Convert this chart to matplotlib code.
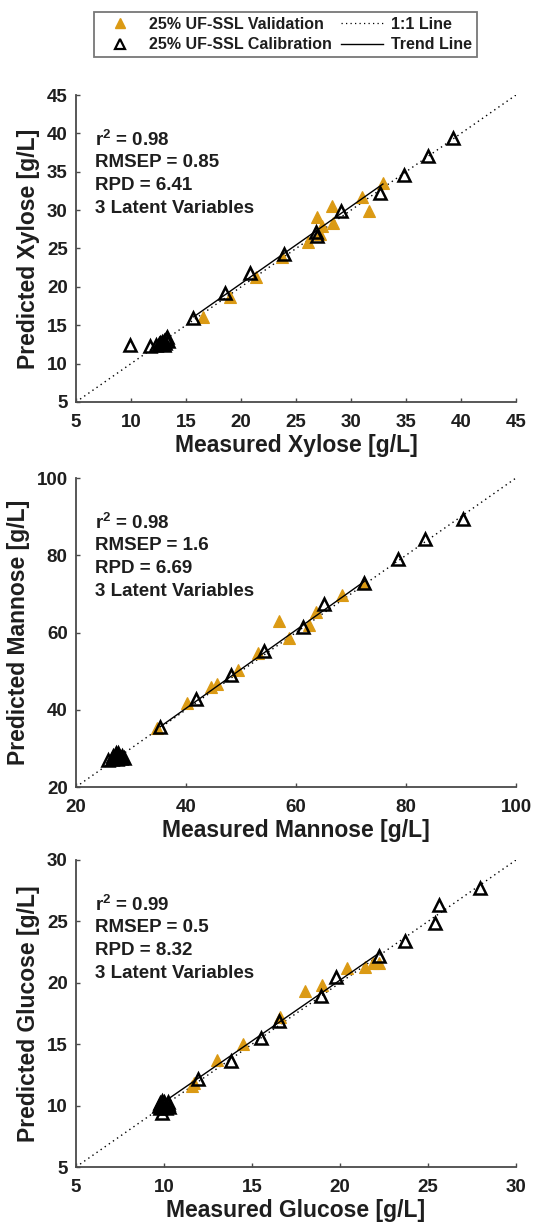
import matplotlib
matplotlib.use("Agg")
import matplotlib.pyplot as plt
from matplotlib.lines import Line2D

plt.rcParams['font.family'] = ['Liberation Sans', 'DejaVu Sans']
plt.rcParams['font.weight'] = 'bold'
plt.rcParams['mathtext.default'] = 'regular'

# ---------------- data ----------------
# Xylose
xyl_val_x = [16.5, 19.0, 21.4, 23.7, 26.1, 27.2, 27.4, 26.9, 28.4, 28.3, 31.0, 31.6, 32.9]
xyl_val_y = [16.1, 18.7, 21.3, 23.9, 25.8, 26.9, 27.9, 29.1, 28.3, 30.5, 31.75, 29.9, 33.5]
xyl_cal_x = [9.9, 11.7, 12.3, 12.5, 12.7, 12.8, 12.9, 13.0, 13.1, 13.2, 13.3, 13.4, 13.0, 12.6,
             15.6, 18.5, 20.8, 23.9, 26.8, 26.9, 29.1, 32.6, 34.8, 37.0, 39.3]
xyl_cal_y = [12.4, 12.3, 12.4, 12.5, 12.5, 12.8, 12.6, 13.0, 12.7, 13.2, 13.5, 13.0, 12.4, 12.7,
             16.0, 19.2, 21.8, 24.3, 27.1, 26.6, 29.9, 32.2, 34.6, 37.05, 39.4]
xyl_trend_x = [15.7, 32.9]
xyl_trend_y = [16.1, 33.4]
xyl_stats = ["r$^2$ = 0.98", "RMSEP = 0.85", "RPD = 6.41", "3 Latent Variables"]

# Mannose
man_val_x = [34.7, 40.1, 44.5, 45.6, 49.5, 53.0, 56.9, 58.8, 62.4, 63.6, 68.4, 72.4]
man_val_y = [35.2, 41.7, 45.8, 46.6, 50.3, 54.6, 63.0, 58.5, 61.9, 65.4, 69.6, 72.9]
man_cal_x = [25.8, 26.5, 27.0, 27.3, 27.6, 27.9, 28.1, 28.4, 27.5, 26.8, 28.7, 27.2,
             35.3, 41.8, 48.2, 54.2, 61.2, 65.0, 72.4, 78.6, 83.5, 90.3]
man_cal_y = [27.0, 27.3, 27.6, 28.2, 28.7, 28.0, 27.5, 27.9, 27.2, 27.9, 27.6, 28.9,
             35.6, 42.7, 49.0, 55.2, 61.5, 67.3, 72.7, 78.9, 84.2, 89.3]
man_trend_x = [35.3, 72.4]
man_trend_y = [35.6, 73.2]
man_stats = ["r$^2$ = 0.98", "RMSEP = 1.6", "RPD = 6.69", "3 Latent Variables"]

# Glucose
glu_val_x = [11.6, 11.7, 13.0, 14.5, 16.6, 18.0, 19.0, 20.4, 21.4, 21.9, 22.2]
glu_val_y = [11.6, 11.8, 13.7, 15.0, 17.2, 19.35, 19.8, 21.2, 21.3, 21.65, 21.6]
glu_cal_x = [9.7, 9.8, 9.9, 10.0, 10.1, 10.2, 10.3, 9.8, 10.0, 10.2, 9.9, 10.1, 9.9,
             11.95, 13.8, 15.5, 16.55, 18.9, 19.8, 22.2, 23.7, 25.4, 25.6, 27.95]
glu_cal_y = [10.0, 10.2, 9.9, 10.3, 10.0, 10.1, 9.9, 9.8, 10.1, 10.3, 10.4, 9.8, 9.4,
             12.15, 13.6, 15.5, 16.85, 18.9, 20.5, 22.2, 23.4, 24.9, 26.3, 27.7]
glu_trend_x = [10.3, 22.2]
glu_trend_y = [10.6, 22.4]
glu_stats = ["r$^2$ = 0.99", "RMSEP = 0.5", "RPD = 8.32", "3 Latent Variables"]

lims = [(5, 45), (20, 100), (5, 30)]
ticks = [list(range(5, 46, 5)), list(range(20, 101, 20)), list(range(5, 31, 5))]
xlabels = ["Measured Xylose [g/L]", "Measured Mannose [g/L]", "Measured Glucose [g/L]"]
ylabels = ["Predicted Xylose [g/L]", "Predicted Mannose [g/L]", "Predicted Glucose [g/L]"]
legend_labels = ["25% UF-SSL Validation", "25% UF-SSL Calibration", "1:1 Line", "Trend Line"]

panels = [
    (xyl_val_x, xyl_val_y, xyl_cal_x, xyl_cal_y, xyl_trend_x, xyl_trend_y, xyl_stats),
    (man_val_x, man_val_y, man_cal_x, man_cal_y, man_trend_x, man_trend_y, man_stats),
    (glu_val_x, glu_val_y, glu_cal_x, glu_cal_y, glu_trend_x, glu_trend_y, glu_stats),
]

# ---------------- style ----------------
ORANGE = '#DB9A14'
SPINE = '#4a4a4a'
TXT = '#1e1e1e'

W, H = 533, 1224
fig = plt.figure(figsize=(W / 100, H / 100), dpi=100)

# axes boxes in pixels: (left, top, right, bottom)
boxes = [(76, 95, 516, 402), (76, 478, 516, 787), (76, 860, 516, 1167)]

for i, (box, pdata) in enumerate(zip(boxes, panels)):
    l, t, r, b = box
    ax = fig.add_axes([l / W, 1 - b / H, (r - l) / W, (b - t) / H])
    vx, vy, cx, cy, tx, ty, stats = pdata
    lo, hi = lims[i]
    ax.plot([lo, hi], [lo, hi], linestyle=(0, (1, 2.6)), color='black', lw=1.0, zorder=1)
    ax.plot(vx, vy, linestyle='none', marker='^', markersize=9, markerfacecolor=ORANGE,
            markeredgecolor=ORANGE, markeredgewidth=0.8, zorder=2)
    ax.plot(cx, cy, linestyle='none', marker='^', markersize=9, markerfacecolor='none',
            markeredgecolor='black', markeredgewidth=1.8, zorder=3)
    ax.plot(tx, ty, linestyle='-', color='black', lw=1.0, zorder=4)

    ax.set_xlim(lo, hi)
    ax.set_ylim(lo, hi)
    ax.set_xticks(ticks[i])
    ax.set_yticks(ticks[i])
    for s in ['top', 'right']:
        ax.spines[s].set_visible(False)
    for s in ['left', 'bottom']:
        ax.spines[s].set_color(SPINE)
        ax.spines[s].set_linewidth(1.3)
    ax.tick_params(axis='both', direction='in', length=3, width=1.0, color=SPINE,
                   labelsize=13.5, labelcolor=TXT)
    ax.tick_params(axis='x', pad=9)
    ax.tick_params(axis='y', pad=6)
    for lab in ax.get_xticklabels() + ax.get_yticklabels():
        lab.set_fontweight('bold')
    ax.set_xlabel(xlabels[i], fontsize=16.5, fontweight='bold', color=TXT, labelpad=2)
    ax.set_ylabel(ylabels[i], fontsize=16.5, fontweight='bold', color=TXT, labelpad=5)

    h = b - t
    for k, s in enumerate(stats):
        ax.text(19 / (r - l), 1 - (45 + 22.7 * k) / h, s, transform=ax.transAxes,
                fontsize=13.5, fontweight='bold', color=TXT, ha='left', va='center')

handles = [
    Line2D([], [], linestyle='none', marker='^', markersize=7.5, markerfacecolor=ORANGE,
           markeredgecolor=ORANGE),
    Line2D([], [], linestyle='none', marker='^', markersize=7.5, markerfacecolor='none',
           markeredgecolor='black', markeredgewidth=1.6),
    Line2D([], [], linestyle=(0, (1, 2.6)), color='black', lw=0.9),
    Line2D([], [], linestyle='-', color='black', lw=1.0),
]
leg = fig.legend(handles, legend_labels, ncol=2, loc='center',
                 bbox_to_anchor=(285.5 / W, 1 - 34.5 / H), frameon=True, fancybox=False,
                 prop={'family': 'Liberation Sans', 'weight': 'bold', 'size': 11.5},
                 handlelength=2.6, handletextpad=0.5, columnspacing=0.6,
                 labelspacing=0.35, borderpad=0.3, borderaxespad=0)
leg.get_frame().set_edgecolor('#555555')
leg.get_frame().set_linewidth(1.3)
for txt in leg.get_texts():
    txt.set_color(TXT)

fig.savefig('out.png', dpi=100, facecolor='white')
